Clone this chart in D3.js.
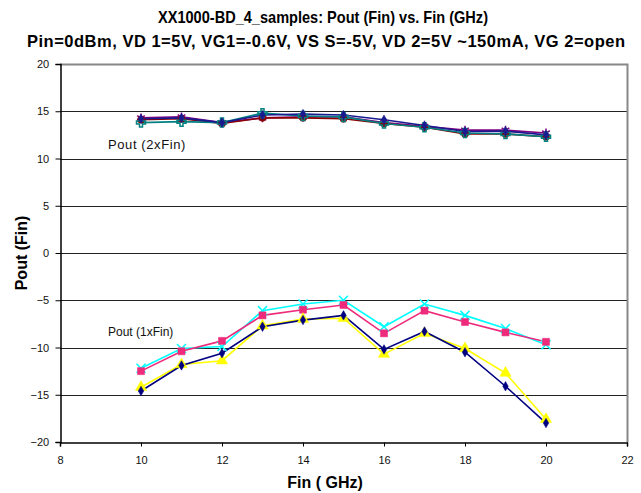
<!DOCTYPE html>
<html><head><meta charset="utf-8">
<script src="https://cdn.jsdelivr.net/npm/d3@7"></script>
<style>body{margin:0;background:#fff}svg{display:block}</style>
</head><body>
<svg id="c" width="641" height="493"></svg>
<script>
const freqs = [10, 11, 12, 13, 14, 15, 16, 17, 18, 19, 20];
const xTicks = [8, 10, 12, 14, 16, 18, 20, 22];
const yTicks = [-20, -15, -10, -5, 0, 5, 10, 15, 20];
// Pout (1xFin)
const s1Navy    = [-14.6, -11.9, -10.6, -7.8, -7.1, -6.6, -10.2, -8.3, -10.5, -14.1, -18.0];
const s2Magenta = [-12.5, -10.4, -9.3, -6.6, -6.0, -5.5, -8.5, -6.1, -7.3, -8.4, -9.4];
const s3Yellow  = [-14.2, -11.8, -11.4, -7.7, -7.0, -6.9, -10.7, -8.5, -10.1, -12.7, -17.6];
const s4Cyan    = [-12.2, -10.1, -9.9, -6.1, -5.4, -5.0, -7.8, -5.4, -6.6, -8.0, -9.7];
// Pout (2xFin)
const s5Purple  = [14.3, 14.4, 13.8, 14.3, 14.4, 14.4, 13.8, 13.4, 13.0, 13.0, 12.7];
const s6Maroon  = [14.1, 14.2, 13.7, 14.3, 14.3, 14.2, 13.7, 13.3, 12.6, 12.6, 12.3];
const s7Teal    = [13.8, 13.9, 13.8, 14.8, 14.5, 14.4, 13.7, 13.3, 12.7, 12.6, 12.3];
const s8Blue    = [14.2, 14.3, 13.8, 14.6, 14.7, 14.6, 14.1, 13.5, 12.85, 12.9, 12.5];

const series = [
  {vals: s5Purple, color: "#800080", marker: "star"},
  {vals: s6Maroon, color: "#8b0000", marker: "circle"},
  {vals: s7Teal, color: "#008080", marker: "plus"},
  {vals: s8Blue, color: "#1a1a90", marker: "diamond"},
  {vals: s4Cyan, color: "#00ffff", marker: "x"},
  {vals: s2Magenta, color: "#ee2a7b", marker: "square"},
  {vals: s3Yellow, color: "#ffff00", marker: "triangle"},
  {vals: s1Navy, color: "#000080", marker: "diamond"}
];

const svg = d3.select("#c");
const L = 60, R = 627, T = 64, B = 442;
const x = d3.scaleLinear().domain([8, 22]).range([L, R]);
const y = d3.scaleLinear().domain([-20, 20]).range([B, T]);

// gridlines
svg.append("g").selectAll("line").data(yTicks.filter(v => v > -20 && v < 20)).join("line")
  .attr("x1", L).attr("x2", R).attr("y1", d => Math.round(y(d)) + 0.5).attr("y2", d => Math.round(y(d)) + 0.5)
  .attr("stroke", "#222").attr("stroke-width", 1);
// border top/right
svg.append("path").attr("d", `M${L},${T+0.5}H${R+0.5}V${B}`).attr("fill", "none").attr("stroke", "#888").attr("stroke-width", 2);

// axes
const xAxis = d3.axisBottom(x).tickValues(xTicks).tickSize(4).tickFormat(d3.format("d"));
const gx = svg.append("g").attr("transform", `translate(0,${Math.round(B)+0.5})`).call(xAxis);
gx.select(".domain").attr("stroke", "#000").attr("stroke-width", 1.5);
gx.selectAll(".tick line").attr("stroke", "#000");
gx.selectAll("text").attr("font-family", "Liberation Sans, Arial, sans-serif").attr("font-size", 11).attr("dy", "1.3em").attr("fill", "#111");

const yAxis = d3.axisLeft(y).tickValues(yTicks).tickSize(5).tickFormat(d3.format("d"));
const gy = svg.append("g").attr("transform", `translate(${L+0.5},0)`).call(yAxis);
gy.select(".domain").attr("stroke", "#000").attr("stroke-width", 1.5);
gy.selectAll(".tick line").attr("stroke", "#000");
gy.selectAll("text").attr("font-family", "Liberation Sans, Arial, sans-serif").attr("font-size", 11).attr("dx", "-0.3em").attr("fill", "#111");

// lines & markers
const line = d3.line().x((d, i) => x(freqs[i])).y(d => y(d));
const sym = {
  circle: d3.symbolCircle, square: d3.symbolSquare, triangle: d3.symbolTriangle,
  diamond: d3.symbolDiamond, plus: d3.symbolCross, x: d3.symbolX, star: d3.symbolAsterisk
};
series.forEach(s => {
  svg.append("path").attr("d", line(s.vals)).attr("fill", "none").attr("stroke", s.color).attr("stroke-width", 1.6);
});
series.forEach(s => {
  const g = svg.append("g");
  const sz = {circle: 40, square: 50, triangle: 55, diamond: 26, plus: 45, x: 55, star: 55}[s.marker];
  const stroked = (s.marker === "x" || s.marker === "plus" || s.marker === "star");
  g.selectAll("path").data(s.vals).join("path")
    .attr("transform", (d, i) => `translate(${x(freqs[i])},${y(d)})`)
    .attr("d", d3.symbol().type(sym[s.marker]).size(sz)())
    .attr("fill", stroked ? "none" : s.color)
    .attr("stroke", s.color).attr("stroke-width", stroked ? 1.5 : 0.5);
});

// annotations
const sans = "Liberation Sans, Arial, sans-serif";
svg.append("text").attr("x", 108).attr("y", 149).attr("font-family", sans).attr("font-size", 13).attr("letter-spacing", 0.6).attr("fill", "#111").text("Pout (2xFin)");
svg.append("text").attr("x", 108).attr("y", 336).attr("font-family", sans).attr("font-size", 12).attr("fill", "#111").text("Pout (1xFin)");

// titles
svg.append("text").attr("x", 323).attr("y", 23).attr("text-anchor", "middle").attr("font-family", sans).attr("font-weight", "bold").attr("font-size", 16.5)
  .attr("textLength", 330).attr("lengthAdjust", "spacingAndGlyphs").attr("fill", "#000").text("XX1000-BD_4_samples:  Pout (Fin) vs. Fin (GHz)");
svg.append("text").attr("x", 326).attr("y", 47).attr("text-anchor", "middle").attr("font-family", sans).attr("font-weight", "bold").attr("font-size", 16.5)
  .attr("textLength", 598).attr("fill", "#000").text("Pin=0dBm, VD 1=5V, VG1=-0.6V, VS S=-5V, VD 2=5V ~150mA, VG 2=open");
svg.append("text").attr("x", 325).attr("y", 488).attr("text-anchor", "middle").attr("font-family", sans).attr("font-weight", "bold").attr("font-size", 16).attr("fill", "#000").text("Fin ( GHz)");
svg.append("text").attr("transform", "translate(27,253) rotate(-90)").attr("text-anchor", "middle").attr("font-family", sans).attr("font-weight", "bold").attr("font-size", 16).attr("fill", "#000").text("Pout (Fin)");
</script>
</body></html>
